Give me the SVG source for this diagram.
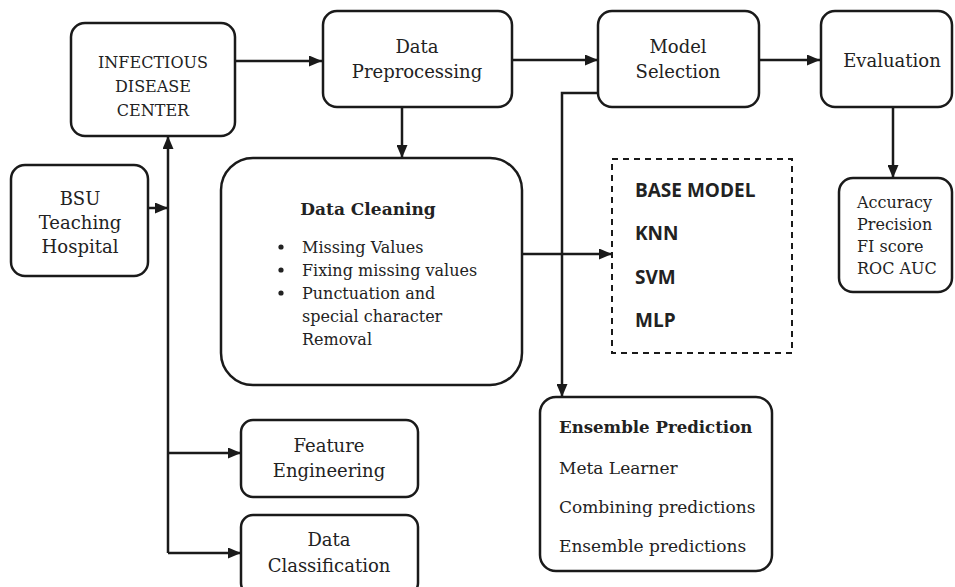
<svg xmlns="http://www.w3.org/2000/svg" width="955" height="587" viewBox="0 0 955 587">
<defs>
<marker id="ah" markerUnits="userSpaceOnUse" markerWidth="13" markerHeight="11" refX="13" refY="5.5" orient="auto">
<path d="M0,0 L13,5.5 L0,11 z" fill="#1a1a1a"/>
</marker>
<style>
.box{fill:#fff;stroke:#1a1a1a;stroke-width:2.5}
.dash{fill:#fff;stroke:#1a1a1a;stroke-width:2;stroke-dasharray:6 5}
.ln{fill:none;stroke:#1a1a1a;stroke-width:2.5}
.ar{fill:none;stroke:#1a1a1a;stroke-width:2.5;marker-end:url(#ah)}
text{font-family:"DejaVu Serif","Liberation Serif",serif;fill:#222}
.c{text-anchor:middle}
.t16{font-size:16px}
.t17{font-size:17px}
.t18{font-size:18px}
.b{font-weight:bold}
.sans{font-family:"Open Sans","DejaVu Sans",sans-serif;font-weight:bold;font-size:19px}
</style>
</defs>
<rect width="955" height="587" fill="#fff"/>

<g id="connectors">
<path class="ar" d="M235,61 H322"/>
<path class="ar" d="M512,60 H598"/>
<path class="ar" d="M759,60 H820"/>
<path class="ar" d="M893,107 V178"/>
<path class="ar" d="M402,107 V158"/>
<path class="ar" d="M148,208 H168"/>
<path class="ar" d="M168,553 V136"/>
<path class="ar" d="M168,453 H241"/>
<path class="ar" d="M168,553 H241"/>
<path class="ar" d="M522,254 H612"/>
<path class="ar" d="M598,93 H562 V397"/>
</g>

<g id="infectious">
<rect class="box" x="71" y="23" width="164" height="113" rx="14"/>
<text class="c t16" x="153" y="68">INFECTIOUS</text>
<text class="c t16" x="153" y="92">DISEASE</text>
<text class="c t16" x="153" y="116">CENTER</text>
</g>

<g id="bsu">
<rect class="box" x="11" y="165" width="137" height="111" rx="14"/>
<text class="c t18" x="80" y="205">BSU</text>
<text class="c t18" x="80" y="229">Teaching</text>
<text class="c t18" x="80" y="253">Hospital</text>
</g>

<g id="preprocessing">
<rect class="box" x="323" y="11" width="189" height="96" rx="14"/>
<text class="c t18" x="417" y="53">Data</text>
<text class="c t18" x="417" y="78">Preprocessing</text>
</g>

<g id="model-selection">
<rect class="box" x="598" y="11" width="161" height="96" rx="14"/>
<text class="c t18" x="678" y="53">Model</text>
<text class="c t18" x="678" y="78">Selection</text>
</g>

<g id="evaluation">
<rect class="box" x="821" y="11" width="131" height="96" rx="14"/>
<text class="c t18" x="892" y="67">Evaluation</text>
</g>

<g id="metrics">
<rect class="box" x="839" y="178" width="113" height="114" rx="14"/>
<text class="t16" x="857" y="208">Accuracy</text>
<text class="t16" x="857" y="230">Precision</text>
<text class="t16" x="857" y="252">FI score</text>
<text class="t16" x="857" y="274">ROC AUC</text>
</g>

<g id="data-cleaning">
<rect class="box" x="221" y="158" width="301" height="227" rx="32"/>
<text class="c t17 b" x="368" y="215">Data Cleaning</text>
<circle cx="281" cy="247" r="2.6" fill="#222"/>
<circle cx="281" cy="270" r="2.6" fill="#222"/>
<circle cx="281" cy="293" r="2.6" fill="#222"/>
<text class="t16" x="302" y="253">Missing Values</text>
<text class="t16" x="302" y="276">Fixing missing values</text>
<text class="t16" x="302" y="299">Punctuation and</text>
<text class="t16" x="302" y="322">special character</text>
<text class="t16" x="302" y="345">Removal</text>
</g>

<g id="base-model">
<rect class="dash" x="612" y="159" width="180" height="194"/>
<text class="sans" x="635" y="197">BASE MODEL</text>
<text class="sans" x="635" y="240">KNN</text>
<text class="sans" x="635" y="284">SVM</text>
<text class="sans" x="635" y="327">MLP</text>
</g>

<g id="ensemble">
<rect class="box" x="540" y="397" width="232" height="174" rx="16"/>
<text class="b" style="font-size:16.6px" x="559" y="433">Ensemble Prediction</text>
<text class="t17" x="559" y="474">Meta Learner</text>
<text class="t17" x="559" y="513">Combining predictions</text>
<text class="t17" x="559" y="552">Ensemble predictions</text>
</g>

<g id="feature-engineering">
<rect class="box" x="241" y="420" width="177" height="77" rx="12"/>
<text class="c t18" x="329" y="452">Feature</text>
<text class="c t18" x="329" y="477">Engineering</text>
</g>

<g id="data-classification">
<rect class="box" x="241" y="515" width="177" height="80" rx="12"/>
<text class="c t18" x="329" y="546">Data</text>
<text class="c t18" x="329" y="572">Classification</text>
</g>
</svg>
